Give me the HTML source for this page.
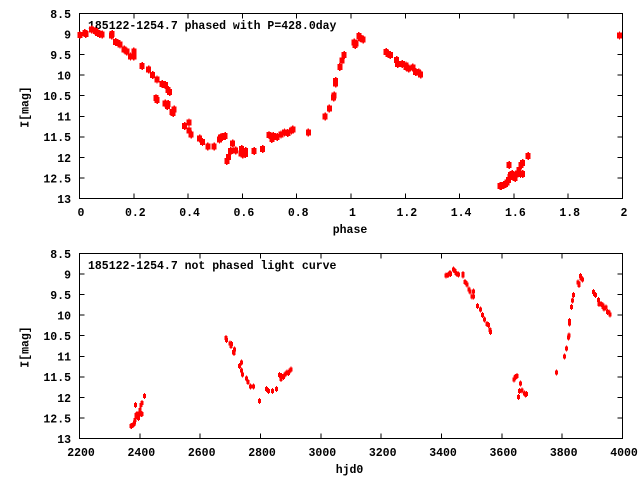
<!DOCTYPE html>
<html><head><meta charset="utf-8"><style>
html,body{margin:0;padding:0;background:#fff;}
svg{display:block;}
text{font-family:"Liberation Mono",monospace;font-weight:bold;font-size:11.5px;fill:#000;}
</style></head><body>
<svg id="s" width="640" height="480" viewBox="0 0 640 480" xmlns="http://www.w3.org/2000/svg" shape-rendering="crispEdges">
<rect x="0" y="0" width="640" height="480" fill="#fff"/>
<g id="g"></g>
</svg>
<script>
var NS="http://www.w3.org/2000/svg",g=document.getElementById('g');
function el(t,a,txt){var e=document.createElementNS(NS,t);for(var k in a)e.setAttribute(k,a[k]);if(txt!=null)e.textContent=txt;g.appendChild(e);return e;}
var data=[[2371.4,12.69],[2373,12.70],[2377,12.67],[2380,12.65],[2382.3,12.61],[2384.6,12.55],[2387,12.48],[2385.6,12.18],[2388,12.43],[2390.3,12.41],[2393.6,12.45],[2395,12.50],[2398.9,12.39],[2401.2,12.31],[2404.5,12.18],[2406.8,12.14],[2403.5,12.40],[2406.8,12.40],[2415.5,11.97],
[2685,10.56],[2687,10.60],[2699.6,10.69],[2702.9,10.75],[2704,10.70],[2710.5,10.89],[2713.8,10.83],[2712,10.92],[2737,11.15],[2730.4,11.24],[2737,11.34],[2740.3,11.44],[2753.6,11.54],[2758.2,11.63],[2766.8,11.73],[2776.8,11.73],[2796.7,12.09],[2819.9,11.80],[2826.5,11.84],[2839.8,11.85],[2853,11.80],[2863,11.46],[2867.6,11.55],[2870,11.48],[2876,11.50],[2882,11.44],[2887.5,11.40],[2892.8,11.41],[2898.5,11.35],[2900.8,11.32],
[3415.6,9.03],[3421.2,9.02],[3428.8,8.97],[3430.5,9.00],[3439.8,8.89],[3445.4,8.92],[3448.8,8.97],[3452,9.0],[3456.3,9.01],[3470.9,9.03],[3472,9.0],[3477.5,9.19],[3481,9.22],[3484.2,9.25],[3490.8,9.37],[3495.1,9.42],[3506.1,9.42],[3500.8,9.54],[3506.1,9.54],[3519.3,9.78],[3529.3,9.86],[3535.9,10.00],[3542.5,10.10],[3550.5,10.22],[3555.8,10.24],[3560.4,10.36],[3562.4,10.41],
[3641,11.56],[3643,11.52],[3645.3,11.51],[3650,11.48],[3661.9,11.66],[3655.2,11.99],[3658.6,11.84],[3666.5,11.83],[3675.1,11.91],[3681.8,11.92],[3678,11.93],
[3781.2,11.39],[3807.7,11.00],[3814.3,10.81],[3821,10.54],[3822,10.50],[3824.3,10.14],[3824.3,10.20],[3830.9,9.80],[3834.2,9.64],[3837.6,9.51],[3853.2,9.21],[3856.5,9.23],[3855,9.27],[3860.8,9.05],[3863,9.09],[3867.4,9.13],[3903.9,9.44],[3907,9.48],[3910.5,9.51],[3920.4,9.63],[3921.8,9.73],[3929.4,9.73],[3935,9.80],[3935,9.76],[3939.4,9.84],[3946,9.81],[3950.3,9.92],[3955,9.94],[3958.2,9.98]];
var L=79.5,R=622.5,T1=13.5,B1=198.5,T2=253.5,B2=438.5,ys=185/4.5;
function frame(T,B,xt,xl){
  el('rect',{x:L,y:T,width:R-L,height:B-T,fill:'none',stroke:'#000','stroke-width':1});
  for(var i=0;i<=9;i++){var m=8.5+i*0.5,y=T+(m-8.5)*ys;
    el('line',{x1:L,y1:y,x2:L+5,y2:y,stroke:'#000'});el('line',{x1:R,y1:y,x2:R-5,y2:y,stroke:'#000'});
    el('text',{x:71,y:y+4.4,'text-anchor':'end'},String(m));}
  for(var j=0;j<xt.length;j++){var x=L+j*(R-L)/(xt.length-1);
    el('line',{x1:x,y1:T,x2:x,y2:T+5,stroke:'#000'});el('line',{x1:x,y1:B,x2:x,y2:B-5,stroke:'#000'});
    el('text',{x:x+1.5,y:B+17.5,'text-anchor':'middle'},xt[j]);}
  var yc=(T+B)/2+1;
  el('text',{x:28.5,y:yc,'text-anchor':'middle',transform:'rotate(-90 28.5 '+yc+')'},'I[mag]');
}
frame(T1,B1,['0','0.2','0.4','0.6','0.8','1','1.2','1.4','1.6','1.8','2'],'phase');
frame(T2,B2,['2200','2400','2600','2800','3000','3200','3400','3600','3800','4000'],'hjd0');
el('text',{x:350,y:233,'text-anchor':'middle'},'phase');
el('text',{x:349.5,y:473,'text-anchor':'middle'},'hjd0');
el('text',{x:88,y:29},'185122-1254.7 phased with P=428.0day');
el('text',{x:88,y:269},'185122-1254.7 not phased light curve');
for(var k=0;k<data.length;k++){var h=data[k][0],m=data[k][1];
  var ph=((h-2564.5)/428)%2;if(ph<0)ph+=2;
  var x=L+ph*271.5,y=T1+(m-8.5)*ys;
  el('rect',{x:(x-2.5).toFixed(1),y:(y-3).toFixed(1),width:5,height:6,fill:'#f00'});
  el('rect',{x:(x-0.6).toFixed(1),y:(y-4).toFixed(1),width:1.4,height:8,fill:'#f00'});
  var bx=L+(h-2200)*(R-L)/1800,by=T2+(m-8.5)*ys;
  el('rect',{x:(bx-1.5).toFixed(1),y:(by-2).toFixed(1),width:3,height:4,fill:'#f00'});
  el('rect',{x:(bx-0.5).toFixed(1),y:(by-3).toFixed(1),width:1,height:6,fill:'#f00'});
}
</script>
</body></html>
